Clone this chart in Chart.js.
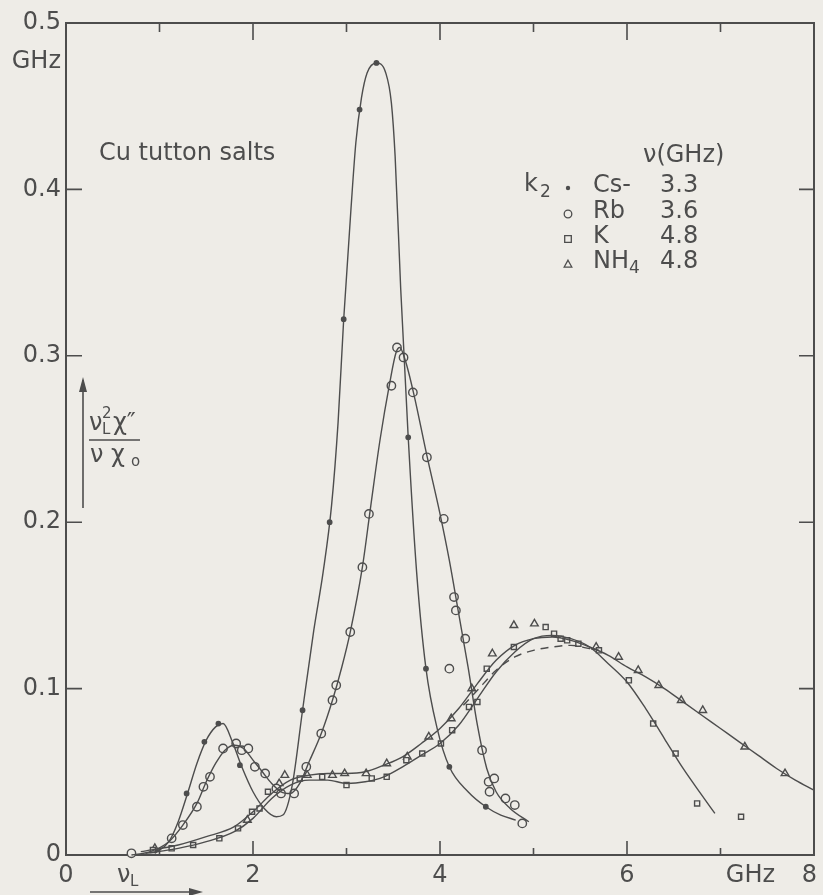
<!DOCTYPE html>
<html><head><meta charset="utf-8">
<script src="https://cdn.jsdelivr.net/npm/chart.js@4.4.1/dist/chart.umd.min.js"></script>
<style>html,body{margin:0;padding:0;background:#eeece7;}canvas{display:block}</style>
</head><body>
<canvas id="c" width="823" height="895"></canvas>
<script>
// ---------- tick labels ----------
const xTickPos  = [0, 2, 4, 6, 7.32, 7.95];
const xTickText = ['0', '2', '4', '6', 'GHz', '8'];
const yTickPos  = [0, 0.1, 0.2, 0.3, 0.4, 0.4765, 0.5];
const yTickText = ['0', '0.1', '0.2', '0.3', '0.4', 'GHz', '0.5'];
const xMajorMarks = [2, 4, 6];
const xMinorMarks = [1, 3, 5, 7];
const yMarks = [0.1, 0.2, 0.3, 0.4];

// ---------- legend ----------
const legendNames = ['Cs-', 'Rb', 'K', 'NH'];
const legendFreq  = ['3.3', '3.6', '4.8', '4.8'];

// ---------- fitted curves (GHz, value) ----------
const csLineF = [0.95,1.1,1.2,1.3,1.4,1.5,1.6,1.68,1.78,1.88,2.0,2.12,2.25,2.32,2.42,2.53,2.65,2.75,2.84,2.91,2.97,3.05,3.1,3.16,3.22,3.32,3.42,3.48,3.52,3.58,3.66,3.75,3.85,3.97,4.1,4.3,4.49,4.65,4.81];
const csLineV = [0.001,0.008,0.02,0.037,0.055,0.069,0.077,0.079,0.068,0.053,0.038,0.028,0.023,0.024,0.042,0.087,0.135,0.17,0.21,0.26,0.322,0.39,0.428,0.455,0.47,0.476,0.47,0.452,0.42,0.34,0.251,0.17,0.112,0.076,0.053,0.038,0.029,0.024,0.021];

const rbLineF = [0.7,0.9,1.1,1.25,1.4,1.5,1.6,1.7,1.8,1.9,2.0,2.1,2.2,2.3,2.4,2.5,2.6,2.73,2.85,2.95,3.04,3.17,3.26,3.36,3.46,3.53,3.57,3.63,3.72,3.86,4.0,4.1,4.2,4.3,4.4,4.5,4.6,4.75,4.95];
const rbLineV = [0.0,0.002,0.008,0.018,0.031,0.044,0.055,0.063,0.066,0.064,0.057,0.05,0.043,0.038,0.037,0.043,0.056,0.073,0.093,0.113,0.134,0.173,0.21,0.25,0.283,0.302,0.305,0.297,0.277,0.24,0.205,0.177,0.145,0.113,0.078,0.052,0.038,0.028,0.02];

const kLineF = [0.85,1.2,1.5,1.8,2.0,2.2,2.4,2.6,2.8,3.0,3.2,3.4,3.6,3.8,4.0,4.2,4.4,4.6,4.8,5.0,5.2,5.4,5.6,5.8,6.0,6.2,6.4,6.6,6.8,6.94];
const kLineV = [0.001,0.004,0.008,0.014,0.022,0.034,0.042,0.045,0.045,0.043,0.044,0.047,0.053,0.06,0.067,0.078,0.094,0.11,0.122,0.13,0.132,0.13,0.125,0.115,0.104,0.088,0.07,0.052,0.036,0.025];

const nhLineF = [0.8,1.2,1.5,1.8,2.0,2.2,2.4,2.6,2.8,3.0,3.2,3.4,3.6,3.8,4.0,4.2,4.4,4.6,4.8,5.0,5.2,5.4,5.6,5.8,6.0,6.2,6.4,6.6,6.8,7.0,7.2,7.4,7.6,7.8,8.0];
const nhLineV = [0.002,0.006,0.011,0.017,0.026,0.037,0.045,0.048,0.049,0.049,0.05,0.054,0.059,0.067,0.076,0.088,0.103,0.117,0.126,0.13,0.131,0.129,0.125,0.12,0.113,0.107,0.1,0.092,0.084,0.076,0.068,0.06,0.052,0.045,0.039];

const dashLineF = [4.25,4.4,4.6,4.8,5.0,5.2,5.4,5.6,5.7];
const dashLineV = [0.09,0.099,0.111,0.119,0.123,0.125,0.126,0.124,0.123];

// ---------- measured points ----------
const csPtF = [1.29,1.48,1.63,1.86,2.53,2.82,2.97,3.14,3.32,3.66,3.85,4.10,4.49];
const csPtV = [0.037,0.068,0.079,0.054,0.087,0.200,0.322,0.448,0.476,0.251,0.112,0.053,0.029];

const rbPtF = [0.70,1.13,1.25,1.40,1.47,1.54,1.68,1.82,1.88,1.95,2.02,2.13,2.25,2.30,2.44,2.57,2.73,2.85,2.89,3.04,3.17,3.24,3.48,3.54,3.61,3.71,3.86,4.04,4.15,4.17,4.10,4.27,4.45,4.52,4.58,4.53,4.70,4.80,4.88];
const rbPtV = [0.001,0.010,0.018,0.029,0.041,0.047,0.064,0.067,0.063,0.064,0.053,0.049,0.040,0.037,0.037,0.053,0.073,0.093,0.102,0.134,0.173,0.205,0.282,0.305,0.299,0.278,0.239,0.202,0.155,0.147,0.112,0.130,0.063,0.044,0.046,0.038,0.034,0.030,0.019];

const kPtF = [0.93,1.13,1.36,1.64,1.84,1.99,2.07,2.16,2.50,2.74,3.00,3.27,3.43,3.64,3.81,4.01,4.13,4.31,4.40,4.50,4.79,5.13,5.22,5.29,5.36,5.48,5.70,6.02,6.28,6.52,6.75,7.22];
const kPtV = [0.003,0.004,0.006,0.010,0.016,0.026,0.028,0.038,0.046,0.047,0.042,0.046,0.047,0.057,0.061,0.067,0.075,0.089,0.092,0.112,0.125,0.137,0.133,0.130,0.129,0.127,0.123,0.105,0.079,0.061,0.031,0.023];

const nhPtF = [0.95,1.94,2.28,2.34,2.58,2.85,2.98,3.21,3.43,3.65,3.88,4.12,4.34,4.56,4.79,5.01,5.67,5.91,6.12,6.34,6.58,6.81,7.26,7.69];
const nhPtV = [0.004,0.021,0.043,0.048,0.048,0.048,0.049,0.049,0.055,0.059,0.071,0.082,0.100,0.121,0.138,0.139,0.125,0.119,0.111,0.102,0.093,0.087,0.065,0.049];

// ---------- helpers ----------
const zip = (f, v) => f.map((x, i) => ({x: x, y: v[i]}));
const INK = '#4d4d4d';
const PAPER = '#eeece7';
const FONT = '"DejaVu Sans", sans-serif';

function lineDs(f, v, dash) {
  return {type: 'line', data: zip(f, v), borderColor: INK, borderWidth: 1.4,
    pointRadius: 0, fill: false, showLine: true, cubicInterpolationMode: 'monotone',
    borderDash: dash || [], clip: false};
}
function ptDs(f, v, style, r, filled) {
  return {type: 'scatter', data: zip(f, v), showLine: false, pointStyle: style,
    pointRadius: r, pointBorderWidth: 1.4, pointBorderColor: INK,
    pointBackgroundColor: filled ? INK : PAPER, clip: false};
}

function drawMarker(ctx, style, x, y, r) {
  ctx.save();
  ctx.strokeStyle = INK; ctx.lineWidth = 1.3; ctx.fillStyle = PAPER;
  ctx.beginPath();
  if (style === 'dot') { ctx.fillStyle = INK; ctx.arc(x, y, r, 0, Math.PI * 2); ctx.fill(); }
  else if (style === 'circle') { ctx.arc(x, y, r, 0, Math.PI * 2); ctx.fill(); ctx.stroke(); }
  else if (style === 'rect') { ctx.rect(x - r, y - r, 2 * r, 2 * r); ctx.fill(); ctx.stroke(); }
  else { ctx.moveTo(x, y - r); ctx.lineTo(x + r, y + r * 0.8); ctx.lineTo(x - r, y + r * 0.8); ctx.closePath(); ctx.fill(); ctx.stroke(); }
  ctx.restore();
}

const framePlugin = {
  id: 'frame',
  beforeDraw(chart) {
    const c = chart.ctx;
    c.save(); c.fillStyle = PAPER; c.fillRect(0, 0, chart.width, chart.height); c.restore();
  },
  beforeDatasetsDraw(chart) {
    const c = chart.ctx, a = chart.chartArea, xs = chart.scales.x, ys = chart.scales.y;
    c.save();
    c.strokeStyle = INK; c.lineWidth = 2;
    c.strokeRect(a.left, a.top, a.right - a.left, a.bottom - a.top);
    c.lineWidth = 1.6;
    c.beginPath();
    xMajorMarks.forEach(v => { const px = xs.getPixelForValue(v);
      c.moveTo(px, a.top); c.lineTo(px, a.top + 17);
      c.moveTo(px, a.bottom); c.lineTo(px, a.bottom - 14); });
    xMinorMarks.forEach(v => { const px = xs.getPixelForValue(v);
      c.moveTo(px, a.top); c.lineTo(px, a.top + 9);
      c.moveTo(px, a.bottom); c.lineTo(px, a.bottom - 7); });
    yMarks.forEach(v => { const py = ys.getPixelForValue(v);
      c.moveTo(a.left, py); c.lineTo(a.left + 16, py);
      c.moveTo(a.right, py); c.lineTo(a.right - 15, py); });
    c.stroke();
    c.restore();
  },
  afterDraw(chart) {
    const c = chart.ctx;
    c.save();
    c.fillStyle = INK; c.strokeStyle = INK;
    c.textBaseline = 'alphabetic'; c.textAlign = 'left';
    c.font = '24px ' + FONT;
    c.fillText('Cu tutton salts', 99, 160);
    // legend
    c.fillText('\u03BD(GHz)', 643, 162);
    c.fillText('k', 524, 191);
    c.font = '17px ' + FONT; c.fillText('2', 540, 197);
    const rowY = [192, 218, 243, 268];
    const styles = ['dot', 'circle', 'rect', 'tri'];
    const radii = [2.2, 3.8, 3.3, 3.8];
    rowY.forEach((y, i) => {
      c.font = '24px ' + FONT;
      c.fillText(legendNames[i], 593, y);
      if (i === 3) { const w = c.measureText('NH').width; c.font = '17px ' + FONT; c.fillText('4', 593 + w, y + 5); c.font = '24px ' + FONT; }
      c.fillText(legendFreq[i], 660, y);
      drawMarker(c, styles[i], 568, y - 4, radii[i]);
    });
    // y-axis quantity
    c.font = '24px ' + FONT;
    c.fillText('\u03BD', 89, 430);
    c.font = '15px ' + FONT; c.fillText('L', 102, 434); c.fillText('2', 102, 418);
    c.font = '24px ' + FONT; c.fillText('\u03C7\u2033', 113, 430);
    c.lineWidth = 1.6;
    c.beginPath(); c.moveTo(89, 440); c.lineTo(140, 440); c.stroke();
    c.fillText('\u03BD \u03C7', 90, 462);
    c.font = '15px ' + FONT; c.fillText('o', 131, 466);
    // y arrow
    c.beginPath(); c.moveTo(83, 508); c.lineTo(83, 380); c.stroke();
    c.beginPath(); c.moveTo(83, 377); c.lineTo(79, 392); c.lineTo(87, 392); c.closePath(); c.fill();
    // x quantity
    c.font = '24px ' + FONT; c.fillText('\u03BD', 117, 882);
    c.font = '15px ' + FONT; c.fillText('L', 130, 886);
    c.beginPath(); c.moveTo(90, 892); c.lineTo(200, 892); c.stroke();
    c.beginPath(); c.moveTo(203, 892); c.lineTo(189, 888); c.lineTo(189, 896); c.closePath(); c.fill();
    c.restore();
  }
};

new Chart(document.getElementById('c'), {
  data: {
    datasets: [
      lineDs(csLineF, csLineV),
      lineDs(rbLineF, rbLineV),
      lineDs(kLineF, kLineV),
      lineDs(nhLineF, nhLineV),
      lineDs(dashLineF, dashLineV, [8, 6]),
      ptDs(csPtF, csPtV, 'circle', 2.2, true),
      ptDs(rbPtF, rbPtV, 'circle', 4.2, false),
      ptDs(kPtF, kPtV, 'rect', 3.6, false),
      ptDs(nhPtF, nhPtV, 'triangle', 4.4, false)
    ]
  },
  options: {
    responsive: false, animation: false, devicePixelRatio: 1,
    layout: {padding: {top: 23, right: 7, left: 0, bottom: 0}},
    plugins: {legend: {display: false}, tooltip: {enabled: false}},
    scales: {
      x: {type: 'linear', min: 0, max: 8,
        grid: {display: false, drawTicks: false}, border: {display: false},
        afterBuildTicks: s => { s.ticks = xTickPos.map(v => ({value: v})); },
        afterFit: s => { s.height = 40; },
        ticks: {autoSkip: false, maxRotation: 0, padding: 6, color: INK,
          font: {family: FONT, size: 24},
          callback: (v, i) => xTickText[i]}},
      y: {type: 'linear', min: 0, max: 0.5,
        grid: {display: false, drawTicks: false}, border: {display: false},
        afterBuildTicks: s => { s.ticks = yTickPos.map(v => ({value: v})); },
        afterFit: s => { s.width = 66; },
        ticks: {autoSkip: false, padding: 5, color: INK,
          font: {family: FONT, size: 24},
          callback: (v, i) => yTickText[i]}}
    }
  },
  plugins: [framePlugin]
});
</script>
</body></html>
